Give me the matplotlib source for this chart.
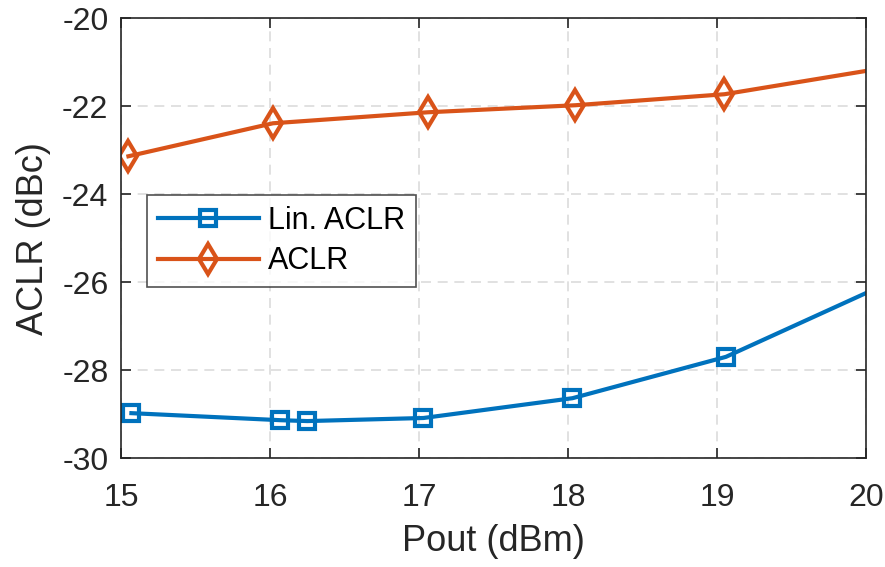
import matplotlib
matplotlib.use("Agg")
import matplotlib.pyplot as plt

plt.rcParams['font.family'] = ['Liberation Sans', 'DejaVu Sans']

pout_lin = [15.07, 16.07, 16.25, 17.03, 18.03, 19.06, 20.0]
aclr_lin = [-28.98, -29.14, -29.16, -29.09, -28.64, -27.70, -26.25]

pout_aclr = [15.05, 16.02, 17.06, 18.05, 19.05, 20.0]
aclr = [-23.14, -22.39, -22.14, -21.98, -21.73, -21.20]

xticks = [15, 16, 17, 18, 19, 20]
yticks = [-30, -28, -26, -24, -22, -20]

blue = '#0072BD'
orange = '#D95319'
axcol = '#262626'

fig = plt.figure(figsize=(8.85, 5.67), dpi=100)
ax = fig.add_axes([0.1367, 0.1922, 0.8418, 0.7758])

ax.plot(pout_lin, aclr_lin, color=blue, lw=3.0, marker='s', markersize=12,
        markerfacecolor='none', markeredgewidth=3.0,
        markevery=list(range(len(pout_lin) - 1)), label='Lin. ACLR')
ax.plot(pout_aclr, aclr, color=orange, lw=3.0, marker='d', markersize=15,
        markerfacecolor='none', markeredgewidth=3.0,
        markevery=list(range(len(pout_aclr) - 1)), label='ACLR')

ax.set_xlim(15, 20)
ax.set_ylim(-30, -20)
ax.set_xticks(xticks)
ax.set_yticks(yticks)
ax.set_xticklabels([str(v) for v in xticks])
ax.set_yticklabels([str(v) for v in yticks])

ax.grid(True, color='#dcdcdc', linestyle=(0, (6, 4)), linewidth=1.2)
ax.set_axisbelow(True)

for s in ax.spines.values():
    s.set_color(axcol)
    s.set_linewidth(1.2)

ax.tick_params(direction='in', length=7, width=1.2, colors=axcol,
               labelsize=23, top=True, right=True)
ax.tick_params(axis='y', pad=9)
ax.tick_params(axis='x', pad=18)
for lbl in ax.get_xticklabels() + ax.get_yticklabels():
    lbl.set_color(axcol)

ax.set_xlabel('Pout (dBm)', fontsize=26, color=axcol, labelpad=8)
ax.set_ylabel('ACLR (dBc)', fontsize=26, color=axcol, labelpad=8)

leg = ax.legend(loc='upper left', bbox_to_anchor=(0.035, 0.598), fontsize=22,
                frameon=True, fancybox=False, edgecolor=axcol,
                handlelength=3.3, borderpad=0.35, labelspacing=0.35,
                handletextpad=0.3, borderaxespad=0)
leg.get_frame().set_linewidth(1.2)

fig.savefig('out.png', dpi=100)
